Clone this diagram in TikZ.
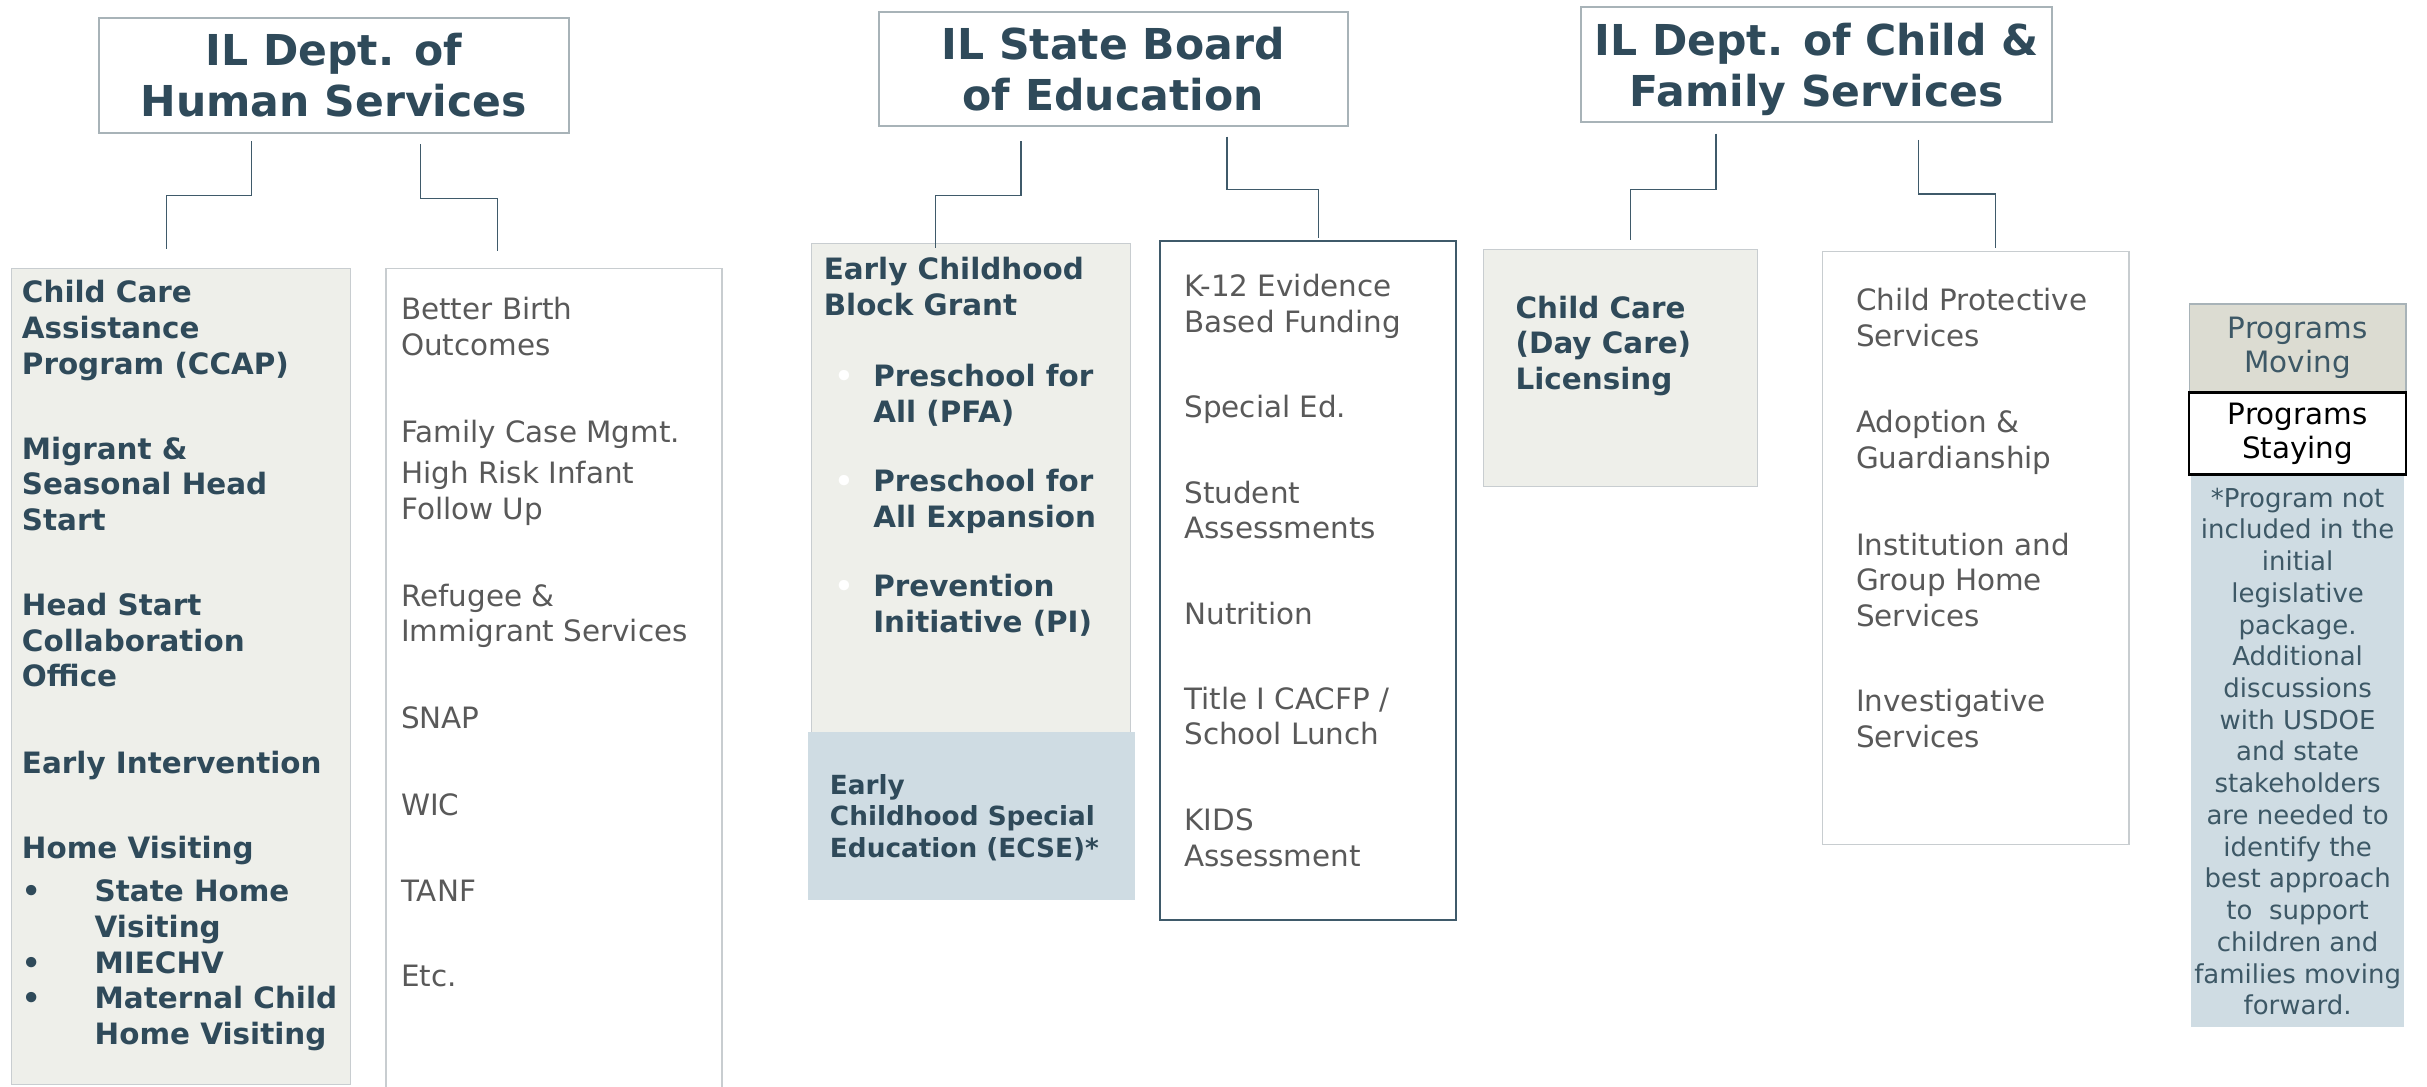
\documentclass[tikz,border=0pt]{standalone}
\usepackage{fontspec}
\setmainfont{DejaVu Sans}
\usetikzlibrary{positioning}

\definecolor{ink}{HTML}{2F4A5A}
\definecolor{greyt}{HTML}{595959}
\definecolor{paleg}{HTML}{EEEFEA}
\definecolor{paleb}{HTML}{CFDCE3}
\definecolor{movefill}{HTML}{DCDCD2}
\definecolor{headline}{HTML}{A8B3B8}
\definecolor{boxline}{HTML}{C8CDD0}
\definecolor{linkc}{HTML}{3F5A6A}
\definecolor{legink}{HTML}{3D5866}

\newcommand\bodysize{\fontsize{19}{23}\selectfont}
\newcommand\notesize{\fontsize{16.8}{20.5}\selectfont}
\newcommand\headsize{\fontsize{27.5}{33}\selectfont}
\newcommand\bul{\makebox[47pt][l]{•}}
\newcommand\wbul{\makebox[32pt][l]{\hspace{7pt}\textcolor{white}{•}}}

\begin{document}
\begin{tikzpicture}[x=1pt, y=-1pt,
  dept/.style = {draw=headline, line width=1.3pt, fill=white, minimum width=304pt, minimum height=74pt, anchor=north west, align=center, font=\headsize\bfseries, text=ink, inner sep=0pt},
  movebox/.style = {draw=boxline, line width=0.8pt, fill=paleg, anchor=north west, inner sep=0pt},
  staybox/.style = {draw=boxline, line width=0.8pt, fill=white, anchor=north west, inner sep=0pt},
  movetxt/.style = {anchor=north west, align=left, inner sep=0pt, font=\bodysize\bfseries, text=ink},
  staytxt/.style = {anchor=north west, align=left, inner sep=0pt, font=\bodysize, text=greyt},
  legend/.style = {minimum width=140pt, inner sep=0pt, align=center, font=\fontsize{19}{22}\selectfont},
  link/.style = {draw=linkc, line width=0.8pt}]

\useasboundingbox (0,0) rectangle (1568,702);

% departments
\node[dept] (dhs) at (63,11) {IL Dept. of\\Human Services};
\node[dept, minimum width=303pt] (isbe) at (567,7) {IL State Board\\of Education};
\node[dept, text depth=0pt] (dcfs) at (1021,4) {IL Dept. of Child \&\\Family Services};

% program boxes
\node[movebox, minimum width=219pt, minimum height=527pt] (ccap) at (7,173) {};
\node[staybox, minimum width=217pt, minimum height=560pt] (dhsr) at (249,173) {};
\node[movebox, minimum width=206pt, minimum height=316pt] (ecbg) at (524,157) {};
\node[anchor=north west, fill=paleb, inner sep=0pt, minimum width=211pt, minimum height=108pt] (ecse) at (522,473) {};
\node[staybox, draw=linkc, line width=1.3pt, minimum width=191pt, minimum height=439pt] (isber) at (749,155) {};
\node[movebox, minimum width=177pt, minimum height=153pt] (ccl) at (958,161) {};
\node[staybox, minimum width=198pt, minimum height=383pt] (dcfsr) at (1177,162) {};

% texts
\node[movetxt] (ccaptxt) at (14,181) {Child Care\\Assistance\\Program (CCAP)\\[32pt]Migrant \&\\Seasonal Head\\Start\\[32pt]Head Start\\Collaboration\\Office\\[33pt]Early Intervention\\[32pt]Home Visiting\\[5pt]\bul State Home\\\hspace*{47pt}Visiting\\\bul MIECHV\\\bul Maternal Child\\\hspace*{47pt}Home Visiting};
\node[staytxt] (dhsrtxt) at (259,192) {Better Birth\\Outcomes\\[33pt]Family Case Mgmt.\\[4pt]High Risk Infant\\Follow Up\\[33pt]Refugee \&\\Immigrant Services\\[33pt]SNAP\\[33pt]WIC\\[33pt]TANF\\[32pt]Etc.};
\node[movetxt] (ecbgtxt) at (532,166) {Early Childhood\\Block Grant\\[23pt]\wbul Preschool for\\\hspace*{32pt}All (PFA)\\[22pt]\wbul Preschool for\\\hspace*{32pt}All Expansion\\[22pt]\wbul Prevention\\\hspace*{32pt}Initiative (PI)};
\node[movetxt, font=\fontsize{17}{20.5}\selectfont\bfseries] (ecsetxt) at (536,500) {Early\\Childhood Special\\Education (ECSE)*};
\node[staytxt] (isbertxt) at (765,177) {K-12 Evidence\\Based Funding\\[32pt]Special Ed.\\[32.5pt]Student\\Assessments\\[32.5pt]Nutrition\\[31.5pt]Title I CACFP /\\School Lunch\\[32.5pt]KIDS\\Assessment};
\node[movetxt] (ccltxt) at (979,191) {Child Care\\(Day Care)\\Licensing};
\node[staytxt] (dcfsrtxt) at (1199,186) {Child Protective\\Services\\[33pt]Adoption \&\\Guardianship\\[33pt]Institution and\\Group Home\\Services\\[32pt]Investigative\\Services};

% connectors
\draw[link] ([xshift=-53pt, yshift=-5pt]dhs.south) -- ++(0,35) -| ([xshift=-9.5pt, yshift=12pt]ccap.north);
\draw[link] ([xshift=56pt, yshift=-7pt]dhs.south) -- ++(0,35) -| ([xshift=-36.5pt, yshift=11pt]dhsr.north);
\draw[link] ([xshift=-59.5pt, yshift=-9pt]isbe.south) -- ++(0,35) -| ([xshift=-23pt, yshift=-3pt]ecbg.north);
\draw[link] ([xshift=73.5pt, yshift=-6pt]isbe.south) -- ++(0,34) -| ([xshift=6.5pt, yshift=1pt]isber.north);
\draw[link] ([xshift=-65pt, yshift=-7pt]dcfs.south) -- ++(0,36) -| ([xshift=6.5pt, yshift=6pt]ccl.north);
\draw[link] ([xshift=66pt, yshift=-11pt]dcfs.south) -- ++(0,35) -| ([xshift=13pt, yshift=2pt]dcfsr.north);

% legend
\node[legend, anchor=north west, fill=movefill, draw=headline, line width=0.8pt, minimum height=57pt, text=legink] (move) at (1414,196) {Programs\\Moving};
\node[legend, fill=white, draw=black, line width=1.5pt, minimum height=53pt, text=black, below=-1pt of move] (stay) {Programs\\Staying};
\node[fill=paleb, minimum width=138pt, minimum height=356pt, inner sep=0pt, align=center, font=\notesize, text=legink, below=0pt of stay] (note) {*Program not\\included in the\\initial\\legislative\\package.\\Additional\\discussions\\with USDOE\\and state\\stakeholders\\are needed to\\identify the\\best approach\\to\ \ support\\children and\\families moving\\forward.};

\end{tikzpicture}
\end{document}
